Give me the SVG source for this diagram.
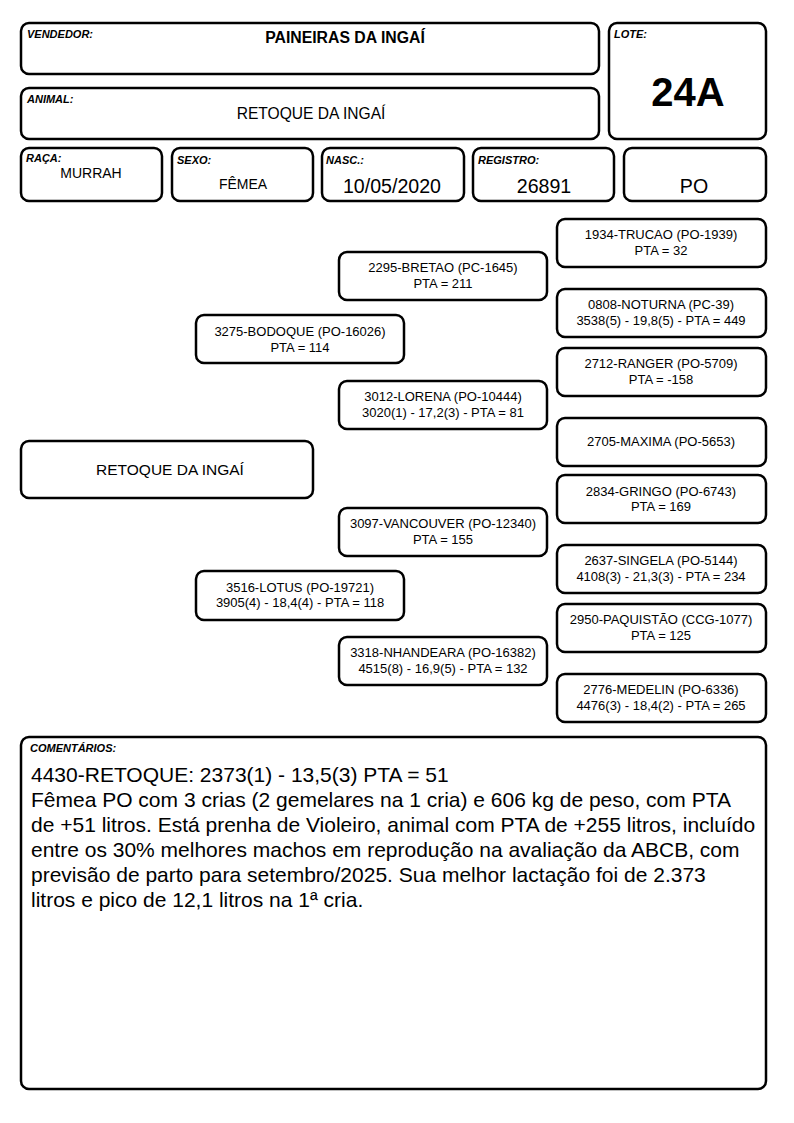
<svg xmlns="http://www.w3.org/2000/svg" width="794" height="1123" viewBox="0 0 794 1123">
<style>
.b{fill:#fff;stroke:#000;stroke-width:2.5}
.lb{font-family:"Liberation Sans",Arial,sans-serif;font-size:11px;font-weight:bold;font-style:italic}
.t{font-family:"Liberation Sans",Arial,sans-serif;text-anchor:middle}
.p{font-family:"Liberation Sans",Arial,sans-serif;font-size:13px;text-anchor:middle}
.c{font-family:"Liberation Sans",Arial,sans-serif;font-size:21px}
</style>
<rect width="794" height="1123" fill="#fff"/>
<g id="vendedor"><rect class="b" x="21" y="23" width="578" height="51" rx="8"/><text class="lb" x="27" y="38">VENDEDOR:</text><text class="t" x="345" y="43" font-size="15.8" font-weight="bold">PAINEIRAS DA INGAÍ</text></g>
<g id="lote"><rect class="b" x="609" y="23" width="157" height="116" rx="8"/><text class="lb" x="614" y="38">LOTE:</text><text class="t" x="688" y="106" font-size="40" font-weight="bold">24A</text></g>
<g id="animal"><rect class="b" x="21" y="88" width="578" height="51" rx="8"/><text class="lb" x="27" y="103">ANIMAL:</text><text class="t" x="311" y="119" font-size="15.6">RETOQUE DA INGAÍ</text></g>
<g id="raca"><rect class="b" x="21" y="148" width="141" height="53" rx="8"/><text class="lb" x="26" y="162">RAÇA:</text><text class="t" x="91" y="178" font-size="14">MURRAH</text></g>
<g id="sexo"><rect class="b" x="172" y="148" width="141" height="53" rx="8"/><text class="lb" x="177" y="164">SEXO:</text><text class="t" x="243" y="189" font-size="14">FÊMEA</text></g>
<g id="nasc"><rect class="b" x="322" y="148" width="142" height="53" rx="8"/><text class="lb" x="326" y="164">NASC.:</text><text class="t" x="392" y="193" font-size="19.6">10/05/2020</text></g>
<g id="registro"><rect class="b" x="473" y="148" width="141" height="53" rx="8"/><text class="lb" x="478" y="164">REGISTRO:</text><text class="t" x="544" y="193" font-size="19.6">26891</text></g>
<g id="po"><rect class="b" x="624" y="148" width="142" height="53" rx="8"/><text class="t" x="694" y="193" font-size="19.6">PO</text></g>
<g id="connectors"></g>
<g id="retoque"><rect class="b" x="21" y="441" width="292" height="57" rx="8"/><text class="t" x="170" y="475" font-size="15.5">RETOQUE DA INGAÍ</text></g>
<g id="bodoque"><rect class="b" x="196" y="315" width="208" height="48" rx="8"/><text class="p" x="300" y="336">3275-BODOQUE (PO-16026)</text><text class="p" x="300" y="352">PTA = 114</text></g>
<g id="lotus"><rect class="b" x="196" y="571" width="208" height="49" rx="8"/><text class="p" x="300" y="592">3516-LOTUS (PO-19721)</text><text class="p" x="300" y="607">3905(4) - 18,4(4) - PTA = 118</text></g>
<g id="bretao"><rect class="b" x="339" y="252" width="208" height="48" rx="8"/><text class="p" x="443" y="272">2295-BRETAO (PC-1645)</text><text class="p" x="443" y="288">PTA = 211</text></g>
<g id="lorena"><rect class="b" x="339" y="381" width="208" height="48" rx="8"/><text class="p" x="443" y="401">3012-LORENA (PO-10444)</text><text class="p" x="443" y="417">3020(1) - 17,2(3) - PTA = 81</text></g>
<g id="vancouver"><rect class="b" x="339" y="508" width="208" height="48" rx="8"/><text class="p" x="443" y="528">3097-VANCOUVER (PO-12340)</text><text class="p" x="443" y="544">PTA = 155</text></g>
<g id="nhandeara"><rect class="b" x="339" y="637" width="208" height="48" rx="8"/><text class="p" x="443" y="657">3318-NHANDEARA (PO-16382)</text><text class="p" x="443" y="673">4515(8) - 16,9(5) - PTA = 132</text></g>
<g id="trucao"><rect class="b" x="557" y="219" width="209" height="48" rx="8"/><text class="p" x="661" y="239">1934-TRUCAO (PO-1939)</text><text class="p" x="661" y="255">PTA = 32</text></g>
<g id="noturna"><rect class="b" x="557" y="289" width="209" height="48" rx="8"/><text class="p" x="661" y="309">0808-NOTURNA (PC-39)</text><text class="p" x="661" y="325">3538(5) - 19,8(5) - PTA = 449</text></g>
<g id="ranger"><rect class="b" x="557" y="348" width="209" height="48" rx="8"/><text class="p" x="661" y="368">2712-RANGER (PO-5709)</text><text class="p" x="661" y="384">PTA = -158</text></g>
<g id="maxima"><rect class="b" x="557" y="418" width="209" height="48" rx="8"/><text class="p" x="661" y="446">2705-MAXIMA (PO-5653)</text></g>
<g id="gringo"><rect class="b" x="557" y="475" width="209" height="48" rx="8"/><text class="p" x="661" y="496">2834-GRINGO (PO-6743)</text><text class="p" x="661" y="511">PTA = 169</text></g>
<g id="singela"><rect class="b" x="557" y="545" width="209" height="48" rx="8"/><text class="p" x="661" y="565">2637-SINGELA (PO-5144)</text><text class="p" x="661" y="581">4108(3) - 21,3(3) - PTA = 234</text></g>
<g id="paquistao"><rect class="b" x="557" y="604" width="209" height="48" rx="8"/><text class="p" x="661" y="624">2950-PAQUISTÃO (CCG-1077)</text><text class="p" x="661" y="640">PTA = 125</text></g>
<g id="medelin"><rect class="b" x="557" y="674" width="209" height="48" rx="8"/><text class="p" x="661" y="694">2776-MEDELIN (PO-6336)</text><text class="p" x="661" y="710">4476(3) - 18,4(2) - PTA = 265</text></g>
<g id="comentarios"><rect class="b" x="21" y="737" width="745" height="352" rx="8"/><text class="lb" x="30" y="752" font-size="10.7">COMENTÁRIOS:</text>
<text class="c" x="31" y="782">4430-RETOQUE: 2373(1) - 13,5(3) PTA = 51</text>
<text class="c" x="31" y="807">Fêmea PO com 3 crias (2 gemelares na 1 cria) e 606 kg de peso, com PTA</text>
<text class="c" x="31" y="832">de +51 litros. Está prenha de Violeiro, animal com PTA de +255 litros, incluído</text>
<text class="c" x="31" y="857">entre os 30% melhores machos em reprodução na avaliação da ABCB, com</text>
<text class="c" x="31" y="882">previsão de parto para setembro/2025. Sua melhor lactação foi de 2.373</text>
<text class="c" x="31" y="907">litros e pico de 12,1 litros na 1ª cria.</text></g>
</svg>
